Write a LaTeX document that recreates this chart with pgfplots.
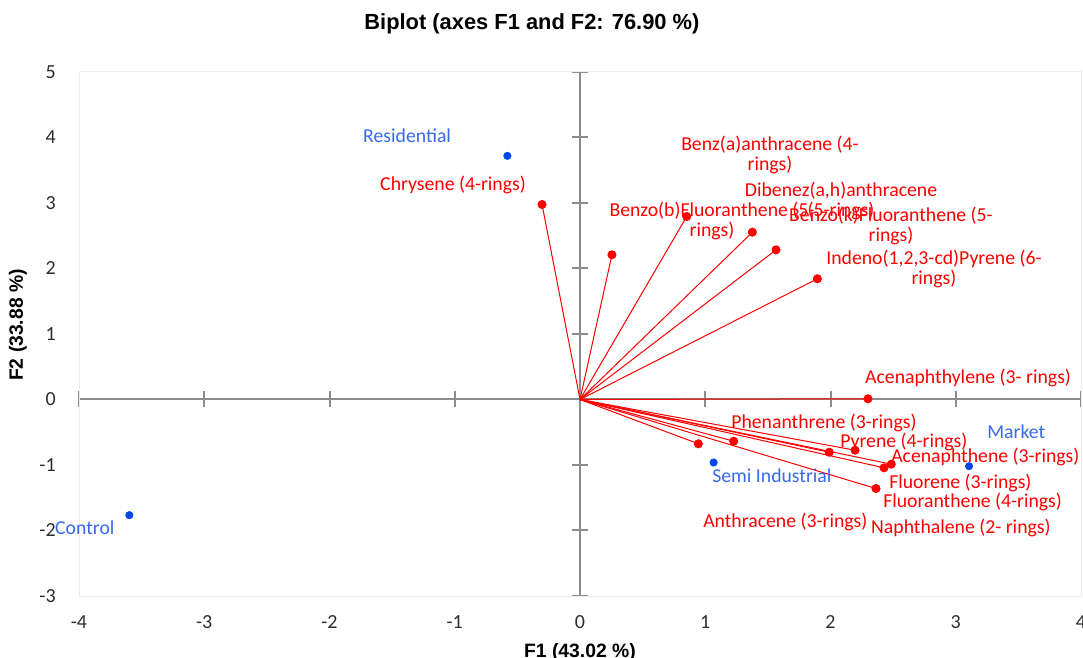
\documentclass[border=0pt]{standalone}
\usepackage{pgfplots}
\pgfplotsset{compat=1.18}
\usepackage{fontspec}
\setmainfont{Carlito}
\newfontfamily\arialfont{Liberation Sans}
\definecolor{pcared}{RGB}{255,0,0}
\definecolor{obsblue}{RGB}{0,70,230}
\definecolor{obslabel}{RGB}{55,105,240}
\definecolor{axgray}{RGB}{140,140,140}
\definecolor{framegray}{RGB}{235,235,235}
\definecolor{ticktext}{RGB}{45,45,45}
\newcommand{\pcavec}[2]{\addplot[pcared, line width=0.75pt, mark=*, mark size=3pt, mark indices={2}, mark options={solid, fill=pcared, draw=pcared}] coordinates {(0,0) (#1,#2)};}
\begin{document}
\begin{tikzpicture}
% zero lines with centred ticks
\begin{axis}[name=ax0, scale only axis, width=751.5pt, height=393pt,
  xmin=-4, xmax=4, ymin=-3, ymax=5,
  axis x line=middle, axis y line=middle,
  every inner x axis line/.append style={-},
  every inner y axis line/.append style={-},
  axis line style={axgray, line width=1.5pt, -},
  xtick={-4,...,4}, ytick={-3,...,5},
  xticklabels={}, yticklabels={},
  tick align=center, major tick length=12pt,
  tick style={axgray, line width=1.5pt},
]
\end{axis}
\begin{axis}[name=ax, scale only axis, width=751.5pt, height=393pt,
  xmin=-4, xmax=4, ymin=-3, ymax=5,
  axis line style={framegray, line width=0.75pt},
  xtick={-4,...,4}, ytick={-3,...,5},
  major tick length=0pt,
  clip=false,
  /pgf/number format/assume math mode=true,
  tick label style={font=\fontsize{15}{15}\selectfont, text=ticktext},
  xticklabel style={anchor=center, yshift=-19.5pt},
  yticklabel style={anchor=east, inner sep=0pt, xshift=-17.25pt},
  title={\arialfont\bfseries Biplot (axes F1 and F2: 76.90 \%)},
  title style={at={(axis description cs:0.452,1.0954)}, anchor=center, yshift=-7.5pt, font=\fontsize{16.4}{16.4}\selectfont},
  xlabel={\arialfont\bfseries F1 (43.02 \%)},
  xlabel style={at={(axis description cs:0.5,-0.1069)}, anchor=center, font=\fontsize{14.5}{14.5}\selectfont},
  ylabel={\arialfont\bfseries F2 (33.88 \%)},
  ylabel style={at={(axis description cs:-0.0609,0.5172)}, anchor=center, font=\fontsize{14.5}{14.5}\selectfont},
]
% variable vectors (PAHs)
\pcavec{-0.303}{2.977}
\pcavec{0.255}{2.209}
\pcavec{0.852}{2.794}
\pcavec{1.376}{2.554}
\pcavec{1.565}{2.285}
\pcavec{1.895}{1.843}
\pcavec{2.299}{0.011}
\pcavec{0.945}{-0.676}
\pcavec{1.227}{-0.637}
\pcavec{1.990}{-0.805}
\pcavec{2.196}{-0.774}
\pcavec{2.427}{-1.043}
\pcavec{2.485}{-0.988}
\pcavec{2.363}{-1.359}
% observations
\addplot[only marks, mark=*, mark size=2.8pt, obsblue] coordinates {(-0.580,3.72) (-3.598,-1.766) (1.067,-0.962) (3.106,-1.018)};
% labels
\begin{scope}[every node/.style={inner sep=0pt, font=\fontsize{14.8}{15}\selectfont}]
\node[anchor=west, text=obslabel] at (axis cs:-1.733,4.031) {Residential};
\node[anchor=west, text=obslabel] at (axis cs:-4.192,-1.954) {Control};
\node[anchor=west, text=obslabel] at (axis cs:1.054,-1.160) {Semi Industrial};
\node[anchor=west, text=obslabel] at (axis cs:3.25,-0.489) {Market};
\node[anchor=west, text=pcared] at (axis cs:-1.597,3.282) {Chrysene (4-rings)};
\node[anchor=west, text=pcared] at (axis cs:2.275,0.321) {Acenaphthylene (3- rings)};
\node[anchor=west, text=pcared] at (axis cs:1.206,-0.366) {Phenanthrene (3-rings)};
\node[anchor=west, text=pcared] at (axis cs:2.076,-0.641) {Pyrene (4-rings)};
\node[anchor=west, text=pcared] at (axis cs:2.483,-0.885) {Acenaphthene (3-rings)};
\node[anchor=west, text=pcared] at (axis cs:2.467,-1.267) {Fluorene (3-rings)};
\node[anchor=west, text=pcared] at (axis cs:2.419,-1.557) {Fluoranthene (4-rings)};
\node[anchor=west, text=pcared] at (axis cs:2.323,-1.969) {Naphthalene (2- rings)};
\node[anchor=west, text=pcared] at (axis cs:0.982,-1.863) {Anthracene (3-rings)};
\node[anchor=center, align=center, text=pcared] at (axis cs:1.517,3.740) {Benz(a)anthracene (4-\\rings)};
\node[anchor=center, align=center, text=pcared] at (axis cs:2.084,3.038) {Dibenez(a,h)anthracene\\(5-rings)};
\node[anchor=center, align=center, text=pcared] at (axis cs:1.054,2.733) {Benzo(b)Fluoranthene (5-\\rings)};
\node[anchor=center, align=center, text=pcared] at (axis cs:2.483,2.656) {Benzo(k)Fluoranthene (5-\\rings)};
\node[anchor=center, align=center, text=pcared] at (axis cs:2.826,1.992) {Indeno(1,2,3-cd)Pyrene (6-\\rings)};
\end{scope}
\end{axis}
\pgfresetboundingbox
\path ([xshift=-59.25pt,yshift=-45.75pt]ax.south west) rectangle ([xshift=1.5pt,yshift=54pt]ax.north east);
\end{tikzpicture}
\end{document}
